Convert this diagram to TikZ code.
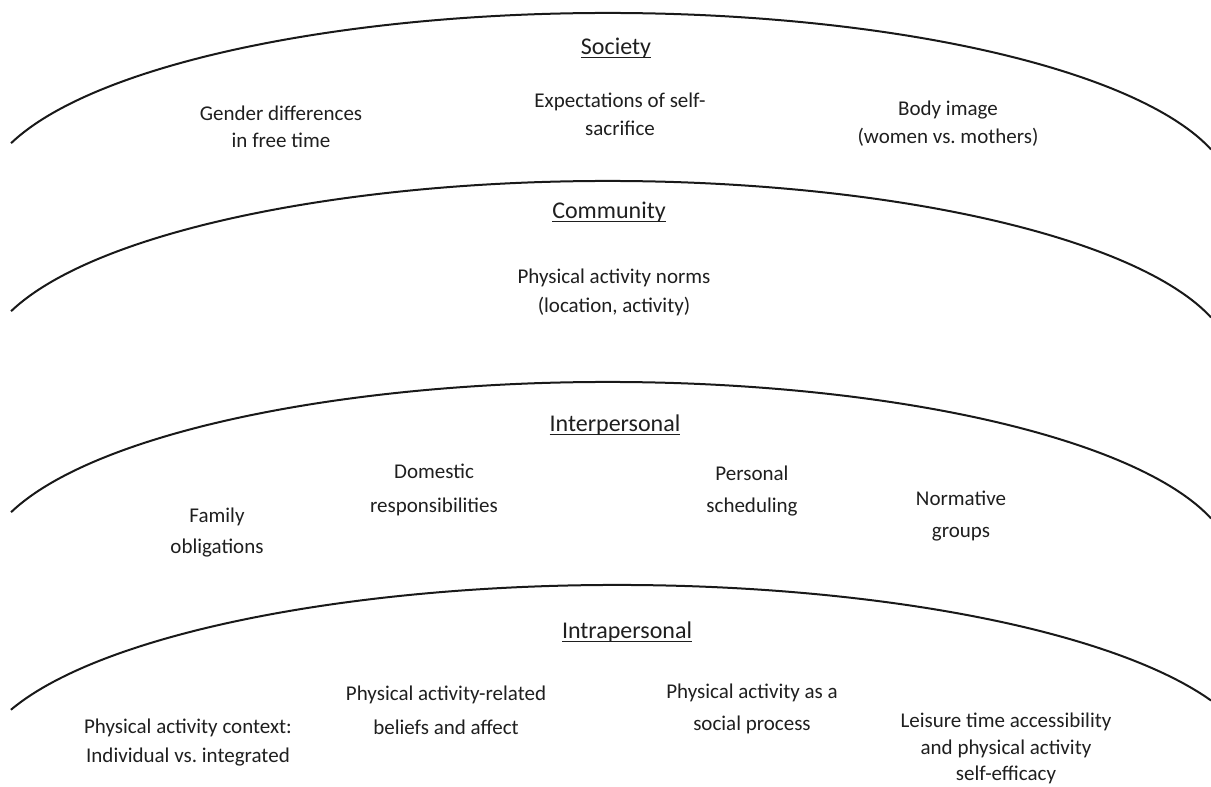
\documentclass[tikz,border=0pt]{standalone}
\usepackage{fontspec}
\setmainfont{Carlito}
\frenchspacing
\newcommand\ulx[1]{\setbox0\hbox{#1}\rlap{\rule[-2pt]{\wd0}{0.8pt}}\box0}
\begin{document}
\begin{tikzpicture}[x=0.5pt,y=0.5pt,
  ring/.style={line width=1pt,draw=black!90},
  ttl/.style={font=\fontsize{12}{14}\selectfont,text=black!88,inner sep=0pt,anchor=center},
  lbl/.style={font=\fontsize{10.5}{#1}\selectfont,text=black!88,align=center,inner sep=0pt,anchor=center},
  lbl/.default=14]
\fill[white] (0,0) rectangle (1211,-787);
\useasboundingbox (0,0) rectangle (1211,-787);
% ellipse centres
\coordinate (c1) at (608,-198);
\coordinate (c2) at (608,-366);
\coordinate (c3) at (608,-567);
\coordinate (c4) at (617,-770);
\draw[ring] (c1) ++(162.76:625 and 185) arc[start angle=162.76,end angle=15.24,x radius=625,y radius=185];
\draw[ring] (c2) ++(162.76:625 and 185) arc[start angle=162.76,end angle=15.24,x radius=625,y radius=185];
\draw[ring] (c3) ++(162.76:625 and 185) arc[start angle=162.76,end angle=15.24,x radius=625,y radius=185];
\draw[ring] (c4) ++(161.0:641 and 185) arc[start angle=161.0,end angle=22.07,x radius=641,y radius=185];
% Society
\node[ttl] (soc) at (616,-48) {\ulx{Society}};
\node[lbl=13.5] (gen) at (281,-126.5) {Gender differences\\in free time};
\node[lbl=14] (exp) at (620,-114) {Expectations of self-\\sacrifice};
\node[lbl=14] (body) at (948,-124) {Body image\\(women vs. mothers)};
% Community
\node[ttl] (com) at (609,-212) {\ulx{Community}};
\node[lbl=14.5] (norms) at (614,-292.5) {Physical activity norms\\(location, activity)};
% Interpersonal
\node[ttl] (inter) at (615,-425) {\ulx{Interpersonal}};
\node[lbl=15.5] (fam) at (217,-532.5) {Family\\obligations};
\node[lbl=17] (dom) at (434,-490) {Domestic\\responsibilities};
\node[lbl=16] (pers) at (752,-491) {Personal\\scheduling};
\node[lbl=16] (norm) at (961,-516) {Normative\\groups};
% Intrapersonal
\node[ttl] (intra) at (627,-632) {\ulx{Intrapersonal}};
\node[lbl=14.5] (ctx) at (188,-742.5) {Physical activity context:\\Individual vs. integrated};
\node[lbl=17] (parel) at (446,-710) {Physical activity-related\\beliefs and affect};
\node[lbl=16] (pasoc) at (752,-709) {Physical activity as a\\social process};
\node[lbl=13.25] (leis) at (1006,-748.5) {Leisure time accessibility\\and physical activity\\self-efficacy};
\end{tikzpicture}
\end{document}
